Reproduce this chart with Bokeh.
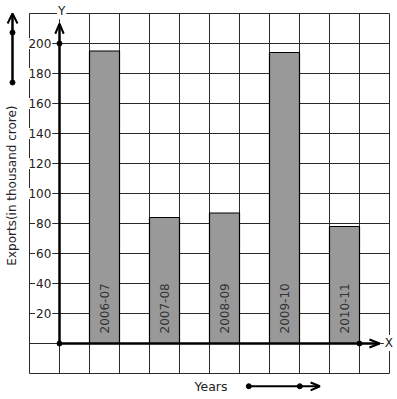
import math
from bokeh.plotting import figure
from bokeh.models import Range1d, ColumnDataSource
from bokeh.core.properties import value
from bokeh.embed import file_html
from bokeh.resources import INLINE

# ---- data ----
years = ["2006-07", "2007-08", "2008-09", "2009-10", "2010-11"]
exports = [195, 84, 87, 194, 78]
bar_pos = [1.5, 3.5, 5.5, 7.5, 9.5]          # bar centres in grid units
y_ticks = [20, 40, 60, 80, 100, 120, 140, 160, 180, 200]
y_tick_labels = [str(v) for v in y_ticks]
x_label = "Years"
y_label = "Exports(in thousand crore)"

W, H = 397, 399
# pixel scale: 30px per x unit, 1.5px per y unit; origin at canvas (59, 343)
x0_px, y0_px = 59, 343
p = figure(width=W, height=H, output_backend="svg", toolbar_location=None,
           x_range=Range1d(-x0_px / 30, (W - x0_px) / 30),
           y_range=Range1d(-(H - y0_px) / 1.5, y0_px / 1.5),
           min_border=0)
p.axis.visible = False
p.grid.visible = False
p.outline_line_color = None
p.background_fill_color = "white"
p.border_fill_color = "white"

FONT = value("DejaVu Sans")
GRID = "#2a2a2a"
TXT = "#222222"

# grid
gx = list(range(-1, 12))
p.segment(x0=gx, y0=[-20] * len(gx), x1=gx, y1=[220] * len(gx), line_color=GRID, line_width=1)
gy = list(range(-20, 221, 20))
p.segment(x0=[-1] * len(gy), y0=gy, x1=[11] * len(gy), y1=gy, line_color=GRID, line_width=1)

# bars
src = ColumnDataSource(dict(x=bar_pos, top=exports, label=years,
                            ly=[6.7] * len(years)))
p.vbar(x="x", top="top", bottom=0, width=1.0, source=src,
       fill_color="#999999", line_color="black", line_width=1.2)
p.text(x="x", y="ly", text="label", source=src, angle=math.pi / 2,
       text_font=FONT, text_font_size=value("12px"), text_color="#333333",
       text_align="left", text_baseline="middle")

# y tick labels (white boxes over grid)
p.text(x=[-0.24] * len(y_ticks), y=y_ticks, text=y_tick_labels,
       text_font=FONT, text_font_size=value("12px"), text_color=TXT,
       text_align="right", text_baseline="middle",
       background_fill_color="white", padding=1)

# axes
p.segment(x0=[0], y0=[0], x1=[0], y1=[213], line_color="black", line_width=2.5)
p.segment(x0=[0], y0=[0], x1=[10.67], y1=[0], line_color="black", line_width=2.5)
# arrowheads
p.line(x=[-0.14, 0, 0.14], y=[206.5, 213.3, 206.5], line_color="black", line_width=2)
p.line(x=[10.33, 10.67, 10.33], y=[2.7, 0, -2.7], line_color="black", line_width=2)
# dots
p.scatter(x=[0, 0, 10], y=[0, 200, 0], size=5, color="black")

# axis letters
p.text(x=[0.07], y=[221.5], text=["Y"], text_font=FONT, text_font_size=value("12px"),
       text_color=TXT, text_align="center", text_baseline="middle",
       background_fill_color="white", padding=1)
p.text(x=[10.98], y=[0.3], text=["X"], text_font=FONT, text_font_size=value("12px"),
       text_color=TXT, text_align="center", text_baseline="middle",
       background_fill_color="white", padding=1)

# y title and its arrow
p.text(x=[-1.567], y=[105.3], text=[y_label], angle=math.pi / 2,
       text_font=FONT, text_font_size=value("12px"), text_color=TXT,
       text_align="center", text_baseline="middle")
p.segment(x0=[-1.567], y0=[174], x1=[-1.567], y1=[219.5], line_color="black", line_width=2.5)
p.line(x=[-1.73, -1.567, -1.40], y=[213.3, 220, 213.3], line_color="black", line_width=2)
p.scatter(x=[-1.567, -1.567], y=[207.3, 174], size=5, color="black")

# x title and its arrow
p.text(x=[5.05], y=[-28.7], text=[x_label], text_font=FONT, text_font_size=value("12.5px"),
       text_color=TXT, text_align="center", text_baseline="middle")
p.segment(x0=[6.31], y0=[-28.5], x1=[8.66], y1=[-28.5], line_color="black", line_width=2)
p.line(x=[8.37, 8.68, 8.37], y=[-26.0, -28.5, -31.2], line_color="black", line_width=2)
p.scatter(x=[6.31, 8.01], y=[-28.5, -28.5], size=5, color="black")

open("out.html", "w").write(file_html(p, INLINE))
